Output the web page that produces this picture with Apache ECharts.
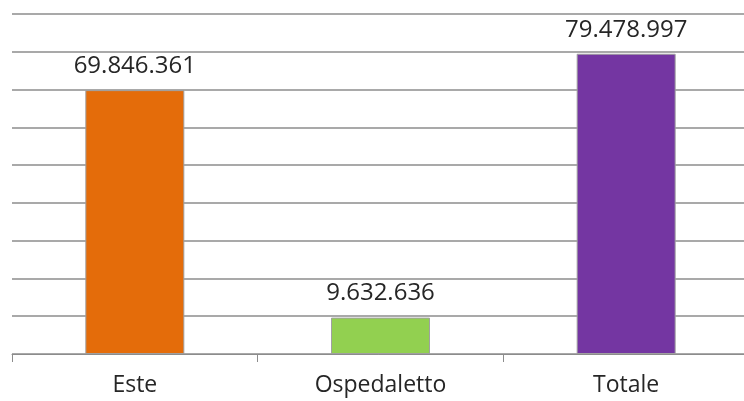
<!DOCTYPE html>
<html>
<head>
<meta charset="utf-8">
<script src="https://cdn.jsdelivr.net/npm/echarts@6/dist/echarts.min.js"></script>
<style>
  html, body { margin: 0; padding: 0; background: #fff; }
  #chart { width: 744px; height: 401px; }
</style>
</head>
<body>
<div id="chart"></div>
<script>
// Categories and values
const categories = ['Este', 'Ospedaletto', 'Totale'];
const values = [69846361, 9632636, 79478997];
const barColors = ['#E46C0A', '#92D050', '#7436A2'];

// Italian-style thousands separator
function fmt(v) {
  return String(v).replace(/\B(?=(\d{3})+(?!\d))/g, '.');
}

const chart = echarts.init(document.getElementById('chart'));
chart.setOption({
  animation: false,
  grid: { left: 12, width: 737, top: 14, height: 340, containLabel: false, outerBoundsMode: 'none' },
  xAxis: {
    type: 'category',
    data: categories,
    axisLine: { lineStyle: { color: '#8c8c8c', width: 1 } },
    axisTick: { show: true, length: 8, lineStyle: { color: '#8c8c8c' } },
    axisLabel: {
      color: '#262626',
      fontSize: 23,
      fontFamily: 'Open Sans, sans-serif',
      margin: 20
    }
  },
  yAxis: {
    type: 'value',
    min: 0,
    max: 90000000,
    interval: 10000000,
    axisLabel: { show: false },
    axisLine: { show: false },
    axisTick: { show: false },
    splitLine: { lineStyle: { color: '#8c8c8c', width: 1.5 } }
  },
  series: [{
    type: 'bar',
    barWidth: 99,
    data: values.map((v, i) => ({
      value: v,
      itemStyle: { color: barColors[i], borderColor: '#a0a0a0', borderWidth: 1 }
    })),
    label: {
      show: true,
      position: 'top',
      distance: 12,
      color: '#262626',
      fontSize: 24,
      fontFamily: 'Open Sans, sans-serif',
      formatter: p => fmt(p.value)
    }
  }]
});
</script>
</body>
</html>
